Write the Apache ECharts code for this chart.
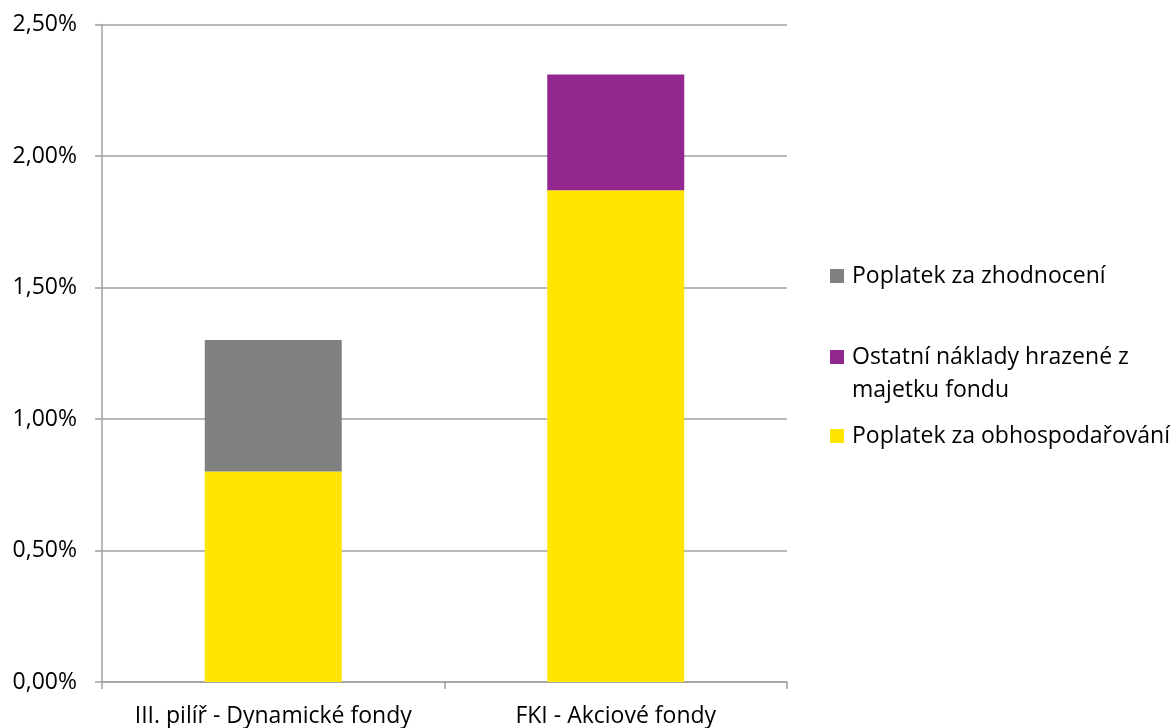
<!DOCTYPE html>
<html>
<head>
<meta charset="utf-8">
<script src="https://cdn.jsdelivr.net/npm/echarts@6/dist/echarts.min.js"></script>
<style>html,body{margin:0;padding:0;background:#fff}#c{width:1174px;height:728px}</style>
</head>
<body>
<div id="c"></div>
<script>
const categories = ['III. pilíř - Dynamické fondy', 'FKI - Akciové fondy'];
const obhospodarovani = [0.80, 1.87];
const ostatniNaklady = ['-', 0.44];
const zhodnoceni = [0.50, '-'];
const yTicks = [0, 0.5, 1.0, 1.5, 2.0, 2.5];

const FONT = 'Open Sans';
const FS = 23;
const chart = echarts.init(document.getElementById('c'), null, {renderer: 'canvas'});
const rich = {t: {fontFamily: FONT, fontSize: FS, color: '#000', lineHeight: 33, padding: [0, 0, 0, 3]}};
const legendBase = {
  orient: 'vertical', left: 830, padding: 0, itemWidth: 14, itemHeight: 14, icon: 'rect',
  itemGap: 0, selectedMode: false,
  textStyle: {fontFamily: FONT, fontSize: FS, color: '#000', lineHeight: 33, rich: rich}
};
chart.setOption({
  animation: false,
  textStyle: {fontFamily: FONT},
  grid: {left: 102, right: 387, top: 24.5, bottom: 46, containLabel: false},
  legend: [
    Object.assign({}, legendBase, {top: 276 - 16.5, data: ['Poplatek za zhodnocení'],
      formatter: n => '{t|' + n + '}'}),
    Object.assign({}, legendBase, {top: 357 - 49.5, data: ['Ostatní náklady hrazené z majetku fondu'],
      formatter: n => '{t| }\n{t|Ostatní náklady hrazené z}\n{t|majetku fondu}'}),
    Object.assign({}, legendBase, {top: 436 - 16.5, data: ['Poplatek za obhospodařování'],
      formatter: n => '{t|' + n + '}'})
  ],
  xAxis: {
    type: 'category', data: categories,
    axisLine: {lineStyle: {color: '#a0a0a0', width: 1.5}},
    axisTick: {show: true, length: 7, lineStyle: {color: '#a0a0a0', width: 1.5}},
    axisLabel: {fontFamily: FONT, fontSize: FS, color: '#000', margin: 23, interval: 0, hideOverlap: false}
  },
  yAxis: {
    type: 'value', min: 0, max: 2.5, interval: 0.5,
    axisLine: {show: true, lineStyle: {color: '#a0a0a0', width: 1.5}},
    axisTick: {show: true, length: 7, lineStyle: {color: '#a0a0a0', width: 1.5}},
    splitLine: {lineStyle: {color: '#a0a0a0', width: 1.5}},
    axisLabel: {fontFamily: FONT, fontSize: FS, color: '#000', margin: 25,
      formatter: v => v.toFixed(2).replace('.', ',') + '%'}
  },
  series: [
    {name: 'Poplatek za obhospodařování', type: 'bar', stack: 's', data: obhospodarovani,
      barWidth: '40%', itemStyle: {color: '#FFE500'}},
    {name: 'Ostatní náklady hrazené z majetku fondu', type: 'bar', stack: 's', data: ostatniNaklady,
      barWidth: '40%', itemStyle: {color: '#92278F'}},
    {name: 'Poplatek za zhodnocení', type: 'bar', stack: 's', data: zhodnoceni,
      barWidth: '40%', itemStyle: {color: '#808080'}}
  ]
});
</script>
</body>
</html>
